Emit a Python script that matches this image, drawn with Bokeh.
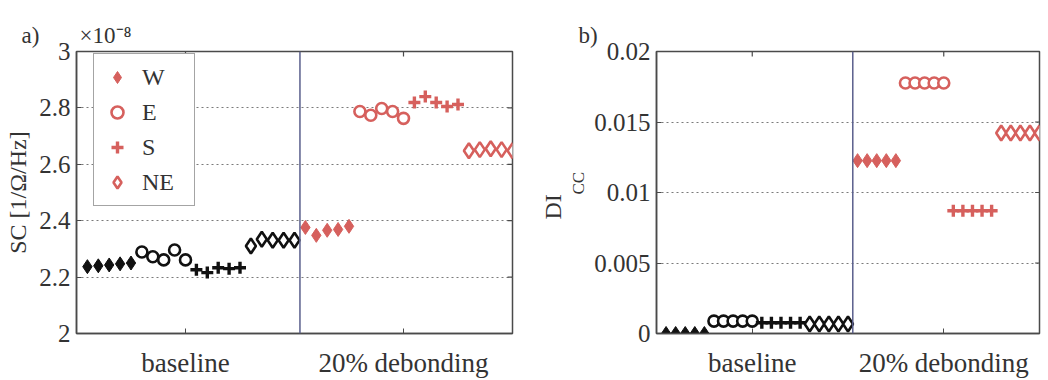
from bokeh.plotting import figure
from bokeh.models import (Span, Legend, LegendItem, FixedTicker,
                          NumeralTickFormatter, Range1d, Title)
from bokeh.layouts import row
from bokeh.core.properties import value
from bokeh.embed import file_html
from bokeh.resources import INLINE

# ---------------------------------------------------------------- data
locations = ["W", "E", "S", "NE"]
conditions = ["baseline", "20% debonding"]
condition_ticks = [10, 30]

# measurement index: 5 repeats per location, baseline first, then debonding
idx_base = {"W": [1, 2, 3, 4, 5], "E": [6, 7, 8, 9, 10],
            "S": [11, 12, 13, 14, 15], "NE": [16, 17, 18, 19, 20]}
idx_deb = {"W": [21, 22, 23, 24, 25], "E": [26, 27, 28, 29, 30],
           "S": [31, 32, 33, 34, 35], "NE": [36, 37, 38, 39, 40]}

# spectral centroid SC, in units of 1e-8 [1/Ohm/Hz]
sc_base = {"W": [2.237, 2.240, 2.243, 2.247, 2.250],
           "E": [2.289, 2.272, 2.261, 2.296, 2.261],
           "S": [2.226, 2.216, 2.233, 2.230, 2.233],
           "NE": [2.310, 2.334, 2.331, 2.331, 2.331]}
sc_deb = {"W": [2.376, 2.348, 2.366, 2.369, 2.380],
          "E": [2.787, 2.774, 2.798, 2.787, 2.763],
          "S": [2.819, 2.840, 2.819, 2.805, 2.812],
          "NE": [2.648, 2.652, 2.655, 2.652, 2.648]}

# damage index DI_CC
di_base = {"W": [0.0, 0.0, 0.0, 0.0, 0.0],
           "E": [0.00088, 0.00088, 0.00088, 0.00088, 0.00088],
           "S": [0.00076, 0.00076, 0.00076, 0.00076, 0.00076],
           "NE": [0.00068, 0.00068, 0.00068, 0.00068, 0.00068]}
di_deb = {"W": [0.01226, 0.01226, 0.01226, 0.01226, 0.01226],
          "E": [0.01777, 0.01777, 0.01777, 0.01777, 0.01777],
          "S": [0.00871, 0.00871, 0.00871, 0.00871, 0.00871],
          "NE": [0.01422, 0.01422, 0.01422, 0.01422, 0.01422]}

sc_ticks = [2.0, 2.2, 2.4, 2.6, 2.8, 3.0]
di_ticks = [0.0, 0.005, 0.01, 0.015, 0.02]

# ---------------------------------------------------------------- style
FONT = "Liberation Serif"
TXT = "#333333"
BLACK = "#111111"
RED = "#d6605d"
FRAME = "#4a4a4a"
DIVIDER = "#5a5f8c"
H = 380
FRAME_TOP, FRAME_BOTTOM = 51, 338     # frame edges, px from the top
NBSP = "\u00a0"

marker_style = {
    "W": dict(marker="diamond", size=14, filled=True, line_width=1),
    "E": dict(marker="circle", size=11, filled=False, line_width=2.6),
    "S": dict(marker="cross", size=12, filled=False, line_width=3.4),
    "NE": dict(marker="diamond", size=15, filled=False, line_width=2.6),
}


def set_font(obj, attr, font):
    """Font properties are specs on some models and plain strings on others."""
    try:
        setattr(obj, attr, value(font))
    except Exception:
        setattr(obj, attr, font)


def make_title(text, offset, size, align="left", standoff=8):
    t = Title(text=text, align=align, offset=offset, vertical_align="bottom",
              standoff=standoff, text_font_size=size,
              text_font_style="normal", text_color=TXT)
    set_font(t, "text_font", FONT)
    return t


def add_series(p, xs, ys, loc, color):
    st = marker_style[loc]
    return p.scatter(xs, ys, marker=st["marker"], size=st["size"],
                     line_color=color, line_width=st["line_width"],
                     fill_color=color if st["filled"] else "white",
                     fill_alpha=1.0)


def make_panel(width, border_left, border_right, y_range, y_ticks, y_fmt,
               tag, tag_offset):
    p = figure(width=width, height=H, output_backend="svg",
               toolbar_location=None, x_range=Range1d(0, 40),
               y_range=Range1d(*y_range),
               title=make_title(tag, tag_offset, "23px"),
               min_border_left=border_left, min_border_right=border_right,
               min_border_top=FRAME_TOP, min_border_bottom=H - FRAME_BOTTOM)
    p.background_fill_color = "white"
    p.border_fill_color = "white"
    p.outline_line_color = FRAME
    p.outline_line_width = 1.5

    p.xaxis.ticker = FixedTicker(ticks=condition_ticks)
    p.xaxis.major_label_overrides = {10: conditions[0], 30: conditions[1]}
    p.yaxis.ticker = FixedTicker(ticks=y_ticks)
    p.yaxis.formatter = NumeralTickFormatter(format=y_fmt)

    for ax in p.axis:
        ax.axis_line_color = FRAME
        ax.axis_line_width = 1.5
        ax.major_tick_in = 5
        ax.major_tick_out = 0
        ax.major_tick_line_color = FRAME
        ax.minor_tick_line_color = None
        set_font(ax, "major_label_text_font", FONT)
        ax.major_label_text_font_size = "25px"
        ax.major_label_text_color = TXT
        ax.major_label_standoff = 6
        set_font(ax, "axis_label_text_font", FONT)
        ax.axis_label_text_font_size = "24px"
        ax.axis_label_text_font_style = "normal"
        ax.axis_label_text_color = TXT
    p.xaxis.major_label_text_font_size = "27px"
    p.xaxis.major_label_standoff = 14

    p.xgrid.grid_line_color = None
    p.ygrid.grid_line_color = "#7a7a7a"
    p.ygrid.grid_line_dash = "2 3"
    p.ygrid.grid_line_width = 1.2

    # box ticks along the top and right edges
    y0, y1 = y_range
    dy = (y1 - y0) * 5 / (FRAME_BOTTOM - FRAME_TOP)
    p.segment(x0=condition_ticks, x1=condition_ticks,
              y0=[y1] * len(condition_ticks), y1=[y1 - dy] * len(condition_ticks),
              line_color=FRAME, line_width=1.2)
    inner = y_ticks[1:-1]
    p.segment(x0=[40] * len(inner), x1=[40 - 40 * 5 / 436] * len(inner),
              y0=inner, y1=inner, line_color=FRAME, line_width=1.2)

    p.add_layout(Span(location=20.5, dimension="height",
                      line_color=DIVIDER, line_width=1.5))
    return p


# ---------------------------------------------------------------- panel a
W1 = 540
p1 = make_panel(W1, 76, 28, (2, 3), sc_ticks, "0.[0]",
                "a)" + NBSP * 7 + "×10⁻⁸", -55)
p1.yaxis.axis_label = "SC [1/Ω/Hz]"

legend_items = []
for loc in locations:
    add_series(p1, idx_base[loc], sc_base[loc], loc, BLACK)
    r = add_series(p1, idx_deb[loc], sc_deb[loc], loc, RED)
    legend_items.append(LegendItem(label=loc, renderers=[r]))

legend = Legend(items=legend_items, location=(17, 127),
                label_text_font_size="24px", label_text_color=TXT,
                glyph_width=30, glyph_height=30, label_height=30,
                label_width=44, label_standoff=10, spacing=5, padding=8,
                border_line_color=FRAME, border_line_width=1.5,
                background_fill_color="white", background_fill_alpha=1.0)
set_font(legend, "label_text_font", FONT)
p1.add_layout(legend, "center")

# ---------------------------------------------------------------- panel b
W2 = 1048 - W1
p2 = make_panel(W2, 113, 9, (0, 0.02), di_ticks, "0.[000]", "b)", -78)
for loc in locations:
    add_series(p2, idx_base[loc], di_base[loc], loc, BLACK)
    add_series(p2, idx_deb[loc], di_deb[loc], loc, RED)

# y-axis label DI with subscript CC: two vertical titles beside the axis,
# the first one added sits next to the tick labels
p2.add_layout(make_title("CC", 139, "17px", standoff=8), "left")
p2.add_layout(make_title("DI", 114, "24px", standoff=-6), "left")

layout = row(p1, p2)
open("out.html", "w").write(file_html(layout, INLINE))
